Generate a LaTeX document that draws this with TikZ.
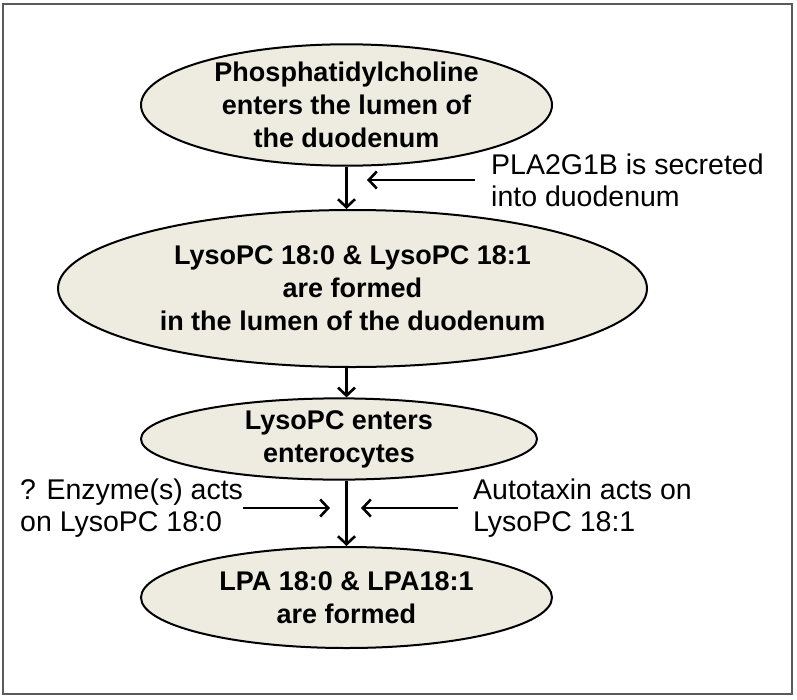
\documentclass[tikz,border=0pt]{standalone}
\usepackage{fontspec}
\setmainfont{Liberation Sans}
\usetikzlibrary{shapes.geometric,arrows.meta}

\definecolor{stepfill}{HTML}{EEECE1}
\definecolor{framegray}{HTML}{5A5A5A}

\tikzset{
  stage/.style={ellipse, draw, line width=2pt, fill=stepfill, inner sep=0pt,
    align=center, font=\fontsize{27}{33}\selectfont\bfseries},
  note/.style={inner sep=0pt, align=left, font=\fontsize{28.5}{32}\selectfont},
  flow/.style={line width=2.6pt, -{Straight Barb[length=8pt,width=17pt,line width=2.6pt]}}
}

\begin{document}
\begin{tikzpicture}[x=1pt,y=-1pt]
\useasboundingbox (0,0) rectangle (797,699);
\draw[framegray, line width=2.5pt] (3,4) rectangle (792,694);

% main chain
\node [stage, minimum width=411pt, minimum height=116pt] (phos) at (346.5,105)
  {Phosphatidylcholine\\enters the lumen of\\the duodenum};
\node [stage, minimum width=589pt, minimum height=157pt] (lyso) at (352.5,288.5)
  {LysoPC 18:0 \& LysoPC 18:1\\are formed\\in the lumen of the duodenum};
\node [stage, minimum width=396pt, minimum height=74pt] (enter) at (339,439)
  {LysoPC enters\\enterocytes};
\node [stage, minimum width=411pt, minimum height=101pt] (lpa) at (346.5,597.5)
  {LPA 18:0 \& LPA18:1\\are formed};

% side notes
\node [note, anchor=west] (pla) at (491,180) {PLA2G1B is secreted\\into duodenum};
\node [note, anchor=west] (enzyme) at (20,508) {? Enzyme(s) acts\\on LysoPC 18:0};
\node [note, anchor=west] (atx) at (473,508) {Autotaxin acts on\\LysoPC 18:1};

\coordinate (plaTip) at (367,180);
\coordinate (enzTip) at (330,508);
\coordinate (atxTip) at (361,508);

\draw [flow] (phos.south) -- (phos.south |- lyso.north);
\draw [flow] (lyso.south -| phos.south) -- (enter.north -| phos.south);
\draw [flow] (enter.south -| phos.south) -- (lpa.north);

\draw [flow] ([xshift=-16pt]pla.west) -- (plaTip);
\draw [flow] (243,508) -- (enzTip);
\draw [flow] ([xshift=-15pt]atx.west) -- (atxTip);
\end{tikzpicture}
\end{document}
